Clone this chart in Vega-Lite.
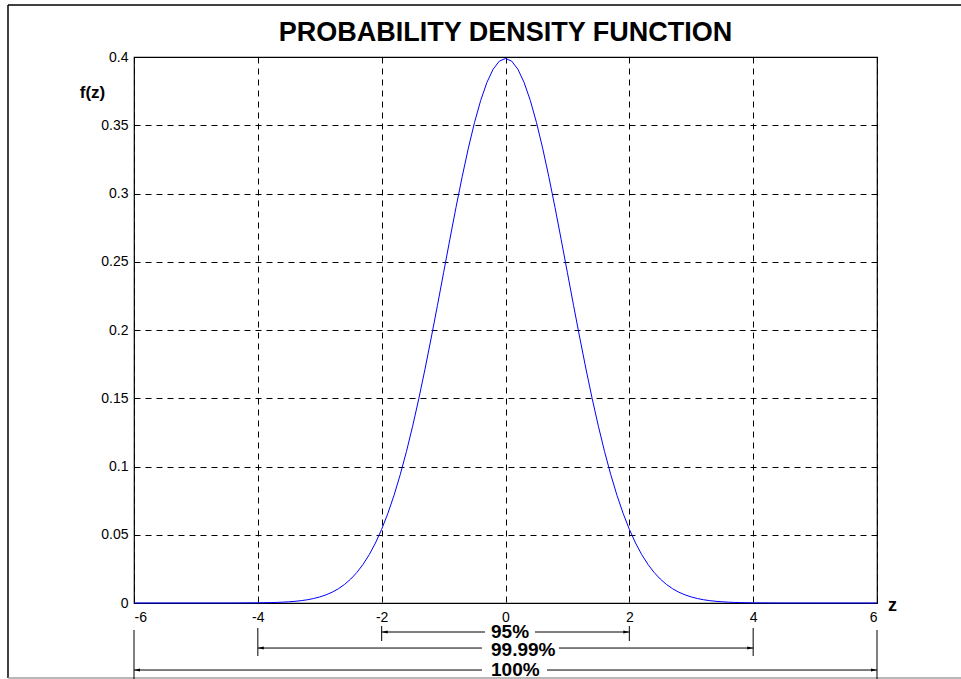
{
  "$schema": "https://vega.github.io/schema/vega-lite/v6.json",
  "width": 743,
  "height": 546,
  "autosize": {"type": "none"},
  "padding": {"left": 134, "top": 57, "right": 84, "bottom": 76},
  "background": "white",
  "config": {
    "font": "Liberation Sans",
    "view": {"stroke": "black", "strokeWidth": 1.2},
    "axis": {"grid": true, "gridColor": "black", "gridDash": [6, 5], "gridWidth": 1, "gridOpacity": 1, "ticks": false, "domain": false, "labelFont": "Liberation Sans", "labelFontSize": 14, "labelColor": "black"}
  },
  "title": {"text": "PROBABILITY DENSITY FUNCTION", "font": "Liberation Sans", "fontSize": 27, "fontWeight": "bold", "color": "black", "anchor": "middle", "frame": "group", "offset": -43},
  "datasets": {
    "pdf": [
      {"z": -6, "f": 0}, {"z": -5, "f": 0.0000015}, {"z": -4.5, "f": 0.000016},
      {"z": -4.0, "f": 0.00013}, {"z": -3.9, "f": 0.0002}, {"z": -3.8, "f": 0.00029}, {"z": -3.7, "f": 0.00042}, {"z": -3.6, "f": 0.00061},
      {"z": -3.5, "f": 0.00087}, {"z": -3.4, "f": 0.00123}, {"z": -3.3, "f": 0.00172}, {"z": -3.2, "f": 0.00238}, {"z": -3.1, "f": 0.00327},
      {"z": -3.0, "f": 0.00443}, {"z": -2.9, "f": 0.00595}, {"z": -2.8, "f": 0.00792}, {"z": -2.7, "f": 0.01042}, {"z": -2.6, "f": 0.01358},
      {"z": -2.5, "f": 0.01753}, {"z": -2.4, "f": 0.02239}, {"z": -2.3, "f": 0.02833}, {"z": -2.2, "f": 0.03547}, {"z": -2.1, "f": 0.04398},
      {"z": -2.0, "f": 0.05399}, {"z": -1.9, "f": 0.06562}, {"z": -1.8, "f": 0.07895}, {"z": -1.7, "f": 0.09405}, {"z": -1.6, "f": 0.11092},
      {"z": -1.5, "f": 0.12952}, {"z": -1.4, "f": 0.14973}, {"z": -1.3, "f": 0.17137}, {"z": -1.2, "f": 0.19419}, {"z": -1.1, "f": 0.21785},
      {"z": -1.0, "f": 0.24197}, {"z": -0.9, "f": 0.26609}, {"z": -0.8, "f": 0.28969}, {"z": -0.7, "f": 0.31225}, {"z": -0.6, "f": 0.33322},
      {"z": -0.5, "f": 0.35207}, {"z": -0.4, "f": 0.36827}, {"z": -0.3, "f": 0.38139}, {"z": -0.2, "f": 0.39104}, {"z": -0.1, "f": 0.39695},
      {"z": 0.0, "f": 0.39894},
      {"z": 0.1, "f": 0.39695}, {"z": 0.2, "f": 0.39104}, {"z": 0.3, "f": 0.38139}, {"z": 0.4, "f": 0.36827}, {"z": 0.5, "f": 0.35207},
      {"z": 0.6, "f": 0.33322}, {"z": 0.7, "f": 0.31225}, {"z": 0.8, "f": 0.28969}, {"z": 0.9, "f": 0.26609}, {"z": 1.0, "f": 0.24197},
      {"z": 1.1, "f": 0.21785}, {"z": 1.2, "f": 0.19419}, {"z": 1.3, "f": 0.17137}, {"z": 1.4, "f": 0.14973}, {"z": 1.5, "f": 0.12952},
      {"z": 1.6, "f": 0.11092}, {"z": 1.7, "f": 0.09405}, {"z": 1.8, "f": 0.07895}, {"z": 1.9, "f": 0.06562}, {"z": 2.0, "f": 0.05399},
      {"z": 2.1, "f": 0.04398}, {"z": 2.2, "f": 0.03547}, {"z": 2.3, "f": 0.02833}, {"z": 2.4, "f": 0.02239}, {"z": 2.5, "f": 0.01753},
      {"z": 2.6, "f": 0.01358}, {"z": 2.7, "f": 0.01042}, {"z": 2.8, "f": 0.00792}, {"z": 2.9, "f": 0.00595}, {"z": 3.0, "f": 0.00443},
      {"z": 3.1, "f": 0.00327}, {"z": 3.2, "f": 0.00238}, {"z": 3.3, "f": 0.00172}, {"z": 3.4, "f": 0.00123}, {"z": 3.5, "f": 0.00087},
      {"z": 3.6, "f": 0.00061}, {"z": 3.7, "f": 0.00042}, {"z": 3.8, "f": 0.00029}, {"z": 3.9, "f": 0.0002}, {"z": 4.0, "f": 0.00013},
      {"z": 4.5, "f": 0.000016}, {"z": 5, "f": 0.0000015}, {"z": 6, "f": 0}
    ],
    "segs": [
      {"x": -2, "x2": -0.331, "y": -0.02125, "y2": -0.02125},
      {"x": 0.476, "x2": 2, "y": -0.02125, "y2": -0.02125},
      {"x": -4, "x2": -0.38, "y": -0.033, "y2": -0.033},
      {"x": 0.864, "x2": 4, "y": -0.033, "y2": -0.033},
      {"x": -6, "x2": -0.38, "y": -0.0491, "y2": -0.0491},
      {"x": 0.67, "x2": 6, "y": -0.0491, "y2": -0.0491},
      {"x": -2, "x2": -2, "y": -0.01685, "y2": -0.02784},
      {"x": 2, "x2": 2, "y": -0.01685, "y2": -0.02784},
      {"x": -4, "x2": -4, "y": -0.01832, "y2": -0.03883},
      {"x": 4, "x2": 4, "y": -0.01832, "y2": -0.03883},
      {"x": -6, "x2": -6, "y": -0.01978, "y2": -0.0557},
      {"x": 6, "x2": 6, "y": -0.01978, "y2": -0.0557}
    ],
    "frame": [
      {"x": -8.035, "x2": 9, "y": 0.4381, "y2": 0.4381, "c": "top"},
      {"x": -8.035, "x2": -8.035, "y": 0.4381, "y2": -0.0549, "c": "left"},
      {"x": -8.035, "x2": 9, "y": -0.0549, "y2": -0.0549, "c": "bottom"}
    ],
    "arrows": [
      {"x": -2, "y": -0.02125, "dir": "left"},
      {"x": 2, "y": -0.02125, "dir": "right"},
      {"x": -4, "y": -0.033, "dir": "left"},
      {"x": 4, "y": -0.033, "dir": "right"},
      {"x": -6, "y": -0.0491, "dir": "left"},
      {"x": 6, "y": -0.0491, "dir": "right"}
    ],
    "labels": [
      {"x": -0.234, "y": -0.02125, "text": "95%"},
      {"x": -0.234, "y": -0.0344, "text": "99.99%"},
      {"x": -0.234, "y": -0.0491, "text": "100%"}
    ]
  },
  "layer": [
    {
      "data": {"name": "frame"},
      "mark": {"type": "rule", "strokeWidth": 1.5, "clip": false},
      "encoding": {
        "x": {"field": "x", "type": "quantitative", "scale": {"domain": [-6, 6], "nice": false, "zero": false}},
        "x2": {"field": "x2"},
        "y": {"field": "y", "type": "quantitative", "scale": {"domain": [0, 0.4], "nice": false}},
        "y2": {"field": "y2"},
        "color": {"field": "c", "type": "nominal", "scale": {"domain": ["top", "left", "bottom"], "range": ["#000000", "#000000", "#a0a0a0"]}, "legend": null}
      }
    },
    {
      "data": {"name": "pdf"},
      "mark": {"type": "line", "color": "#0000ff", "strokeWidth": 1},
      "encoding": {
        "x": {"field": "z", "type": "quantitative", "scale": {"domain": [-6, 6], "nice": false, "zero": false},
          "axis": {"values": [-6, -4, -2, 0, 2, 4, 6], "labelExpr": "'' + datum.value", "labelPadding": 7, "title": "z", "titleFontSize": 18, "titleFontWeight": "bold", "titleColor": "black", "titleX": 758, "titleY": 2, "titleAlign": "center", "titleBaseline": "middle", "titleAngle": 0}},
        "y": {"field": "f", "type": "quantitative", "scale": {"domain": [0, 0.4], "nice": false},
          "axis": {"values": [0, 0.05, 0.1, 0.15, 0.2, 0.25, 0.3, 0.35, 0.4], "labelExpr": "'' + datum.value", "labelPadding": 6, "title": "f(z)", "titleFontSize": 17, "titleFontWeight": "bold", "titleColor": "black", "titleAngle": 0, "titleX": -42, "titleY": 35, "titleAlign": "center", "titleBaseline": "middle"}}
      }
    },
    {
      "data": {"name": "segs"},
      "mark": {"type": "rule", "color": "black", "strokeWidth": 1, "clip": false},
      "encoding": {
        "x": {"field": "x", "type": "quantitative"},
        "x2": {"field": "x2"},
        "y": {"field": "y", "type": "quantitative"},
        "y2": {"field": "y2"}
      }
    },
    {
      "data": {"name": "arrows"},
      "mark": {"type": "point", "filled": true, "color": "black", "opacity": 1, "size": 144, "clip": false},
      "encoding": {
        "x": {"field": "x", "type": "quantitative"},
        "y": {"field": "y", "type": "quantitative"},
        "shape": {"field": "dir", "type": "nominal", "scale": {"domain": ["left", "right"], "range": ["M0,0L1,-0.25L1,0.25Z", "M0,0L-1,-0.25L-1,0.25Z"]}, "legend": null}
      }
    },
    {
      "data": {"name": "labels"},
      "mark": {"type": "text", "align": "left", "baseline": "middle", "font": "Liberation Sans", "fontSize": 19, "fontWeight": "bold", "color": "black", "clip": false},
      "encoding": {
        "x": {"field": "x", "type": "quantitative"},
        "y": {"field": "y", "type": "quantitative"},
        "text": {"field": "text"}
      }
    }
  ]
}
